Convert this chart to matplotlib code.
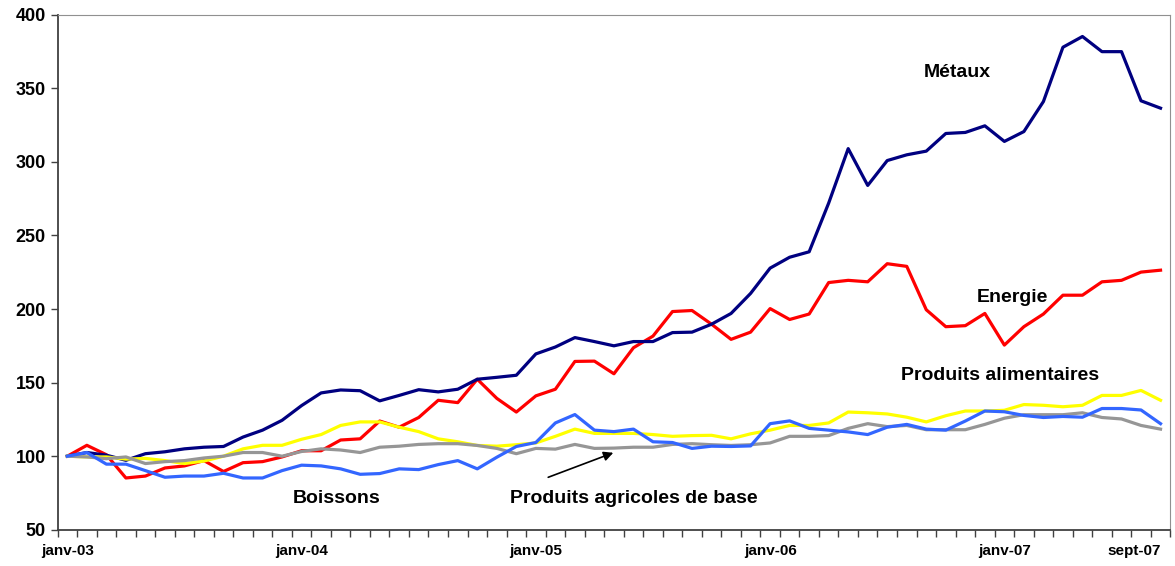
import matplotlib.pyplot as plt
import numpy as np

# mois de janv-03 à sept-07
mois = list(range(57))
etiquettes_x = {0: 'janv-03', 12: 'janv-04', 24: 'janv-05', 36: 'janv-06', 48: 'janv-07', 56: 'sept-07'}

metaux = [100, 102.5, 100.7, 97.2, 101.7, 103, 105, 106.1, 106.6, 113, 117.7, 124.4, 134.4, 143, 145,
          144.5, 137.6, 141.3, 145.2, 143.7, 145.5, 152.3, 153.6, 155, 169.5, 174.2, 180.6, 177.9, 175,
          177.9, 177.9, 184, 184.3, 189.7, 197, 210.6, 227.8, 235.2, 238.9, 272, 309, 284, 300.9, 304.8,
          307.3, 319.3, 320, 324.5, 313.9, 320.6, 341, 377.9, 385.2, 374.9, 374.9, 341.5, 336.5]
energie = [100, 107.4, 101, 85.2, 86.5, 92, 93.4, 97, 89.6, 95.6, 96.3, 99.5, 103.7, 103.7, 111, 111.8,
           123.9, 119.7, 126.3, 138, 136.4, 152.3, 139.3, 130, 141, 145.5, 164.4, 164.6, 156, 173.7, 181.6,
           198.3, 199, 189.7, 179.4, 184.3, 200.3, 192.9, 196.6, 218, 219.5, 218.5, 230.8, 229, 199.5, 188,
           188.7, 197, 175.5, 188, 196.6, 209.4, 209.4, 218.5, 219.5, 225.1, 226.4]
alimentaires = [100, 99.5, 99.5, 98, 98.5, 97, 95, 96.7, 100, 105, 107.4, 107.4, 111.5, 114.7, 120.9, 123.3,
                123.3, 119.7, 116.7, 111.8, 109.8, 107.3, 106.8, 107.8, 109, 113.5, 118.4, 115.5, 115.5,
                115.5, 114.7, 113.5, 114, 114.2, 111.8, 115.2, 117.7, 120.9, 120.9, 122.6, 130, 129.5, 128.7,
                126.5, 123.3, 127.5, 130.7, 130.7, 131.2, 135.1, 134.6, 133.6, 134.6, 141.3, 141.3, 144.7, 138]
agricoles = [100, 99.5, 98.3, 99.5, 95, 96.3, 97, 98.8, 100, 102.5, 102.5, 100, 103.2, 105, 104.2, 102.5,
             106.1, 106.8, 108, 108.5, 108.5, 107.3, 105.3, 101.7, 105.3, 104.8, 108, 105.3, 105.5, 106.1,
             106.1, 108, 108.5, 107.8, 107.3, 107.8, 109, 113.5, 113.5, 114, 118.9, 122.1, 120.1, 120.9,
             118, 118, 118, 121.6, 125.8, 128.2, 128.2, 128.2, 129.5, 126.3, 125.3, 120.9, 118.4]
boissons = [100, 102.5, 94.6, 94.6, 90.2, 85.7, 86.5, 86.5, 88.4, 85.2, 85.2, 90.2, 93.9, 93.4, 91.4, 87.7,
            88.2, 91.4, 90.9, 94.3, 97, 91.4, 99.3, 106.6, 109.3, 122.6, 128.3, 117.7, 116.7, 118.4, 109.8,
            109.3, 105.3, 106.8, 106.6, 107, 122.1, 124, 118.9, 117.7, 116.5, 114.7, 119.7, 121.6, 118.4,
            117.7, 123.9, 130.7, 130.2, 127.7, 126.3, 127, 126.5, 132.4, 132.4, 131.4, 122.1]

fig = plt.figure(figsize=(11.75, 5.66), dpi=100)
ax = fig.add_axes([0.049, 0.064, 0.947, 0.91])

ax.plot(mois, energie, color='#FF0000', lw=2.3)
ax.plot(mois, metaux, color='#000080', lw=2.3)
ax.plot(mois, alimentaires, color='#FFFF00', lw=2.3)
ax.plot(mois, agricoles, color='#969696', lw=2.3)
ax.plot(mois, boissons, color='#3366FF', lw=2.3)

ax.set_xlim(-0.5, 56.5)
ax.set_ylim(50, 400)
ax.set_yticks(range(50, 401, 50))
ax.set_xticks(list(etiquettes_x.keys()))
ax.set_xticklabels(list(etiquettes_x.values()))
ax.set_xticks(np.arange(-0.5, 57, 1), minor=True)
ax.tick_params(axis='x', which='major', length=0, pad=10)
ax.tick_params(axis='x', which='minor', length=5, width=1, color='#404040', direction='out')
ax.tick_params(axis='y', length=5, width=1, color='#404040', direction='out')
for lab in ax.get_xticklabels():
    lab.set_fontsize(11)
    lab.set_fontweight('bold')
    lab.set_fontfamily('Liberation Sans')
ax.get_xticklabels()[-1].set_ha('right')
for lab in ax.get_yticklabels():
    lab.set_fontsize(13)
    lab.set_fontweight('bold')
    lab.set_fontfamily('Liberation Sans')

ax.spines['left'].set_color('#404040')
ax.spines['bottom'].set_color('#404040')
ax.spines['left'].set_linewidth(1.3)
ax.spines['bottom'].set_linewidth(1.3)
ax.spines['top'].set_color('#909090')
ax.spines['right'].set_color('#909090')

txt = dict(fontsize=14, fontweight='bold', fontfamily='Liberation Sans', ha='center', va='center')
ax.text(45.6, 361, 'Métaux', **txt)
ax.text(48.4, 208, 'Energie', **txt)
ax.text(47.8, 155, 'Produits alimentaires', **txt)
ax.text(13.8, 71, 'Boissons', **txt)
ax.text(29.0, 71, 'Produits agricoles de base', **txt)
ax.annotate('', xy=(28.1, 103), xytext=(24.5, 85),
            arrowprops=dict(arrowstyle='-|>', color='black', lw=1.2, mutation_scale=14))

plt.savefig('out.png', dpi=100)
